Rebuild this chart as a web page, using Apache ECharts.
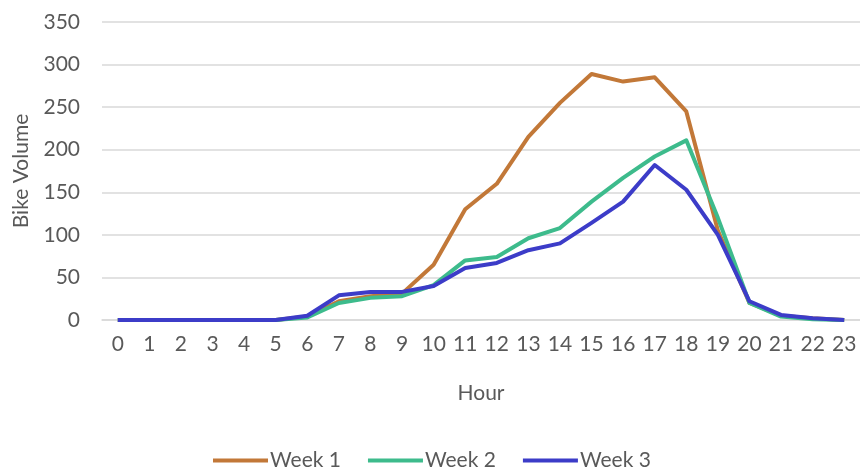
<!DOCTYPE html>
<html>
<head>
<meta charset="utf-8">
<script src="https://cdn.jsdelivr.net/npm/echarts@6/dist/echarts.min.js"></script>
<style>
html,body{margin:0;padding:0;background:#fff;}
#chart{width:860px;height:473px;}
</style>
</head>
<body>
<div id="chart"></div>
<script>
const hours = ['0','1','2','3','4','5','6','7','8','9','10','11','12','13','14','15','16','17','18','19','20','21','22','23'];
const week1 = [0,0,0,0,0,0,4,22,28,31,65,130,160,215,255,289,280,285,245,105,20,5,2,0];
const week2 = [0,0,0,0,0,0,3,20,26,28,41,70,74,96,108,139,167,192,211,120,20,4,1,0];
const week3 = [0,0,0,0,0,0,5,29,33,33,40,61,67,82,90,114,139,182,153,100,22,6,2,0];
const seriesNames = ['Week 1','Week 2','Week 3'];
const colors = ['#C27838','#3DBB8C','#3C3CC8'];

const chart = echarts.init(document.getElementById('chart'));
const font = 'Lato';
const textColor = '#595959';
chart.setOption({
  animation:false,
  backgroundColor:'#ffffff',
  color:colors,
  grid:{left:102,right:0,top:22,bottom:153,containLabel:false,outerBoundsMode:'none'},
  legend:{
    left:208, top:445,
    icon:'rect', itemWidth:55, itemHeight:4, itemGap:27,
    textStyle:{fontFamily:font,fontSize:21,color:textColor,padding:[0,0,0,-3]},
    data:seriesNames
  },
  xAxis:{
    type:'category', data:hours, boundaryGap:true,
    name:'Hour', nameLocation:'middle', nameGap:63,
    nameTextStyle:{fontFamily:font,fontSize:21,color:textColor},
    axisLine:{show:true,lineStyle:{color:'#d9d9d9',width:1.5}},
    axisTick:{show:false},
    axisLabel:{fontFamily:font,fontSize:21,color:textColor,margin:14,interval:0}
  },
  yAxis:{
    type:'value', min:0, max:350, interval:50,
    name:'Bike Volume', nameLocation:'middle', nameGap:70, nameRotate:90,
    nameTextStyle:{fontFamily:font,fontSize:21,color:textColor},
    axisLine:{show:false}, axisTick:{show:false},
    axisLabel:{fontFamily:font,fontSize:21,color:textColor,margin:22},
    splitLine:{lineStyle:{color:'#d9d9d9',width:1.5}}
  },
  series:[week1,week2,week3].map((d,i)=>({
    name:seriesNames[i], type:'line', data:d, showSymbol:false, symbol:'none',
    lineStyle:{width:4,color:colors[i],join:'round'}, itemStyle:{color:colors[i]}
  }))
});
</script>
</body>
</html>
